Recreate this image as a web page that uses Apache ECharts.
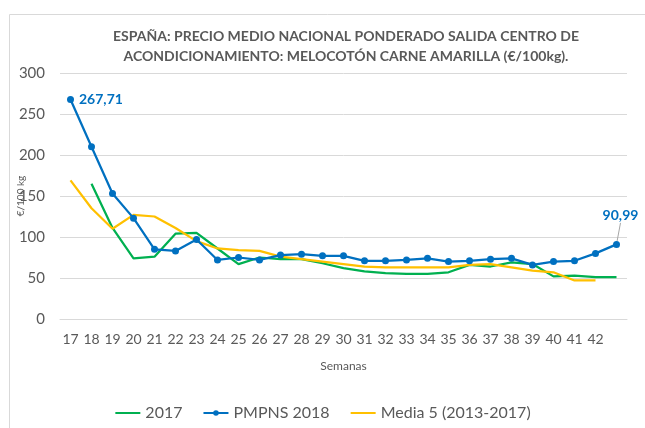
<!DOCTYPE html>
<html>
<head>
<meta charset="utf-8">
<script src="https://cdn.jsdelivr.net/npm/echarts@6/dist/echarts.min.js"></script>
<style>
  html, body { margin: 0; padding: 0; background: #fff; }
  #chart { width: 645px; height: 428px; }
</style>
</head>
<body>
<div id="chart"></div>
<script>
// semanas 17..43 (la última sin etiqueta)
const semanas = ['17', '18', '19', '20', '21', '22', '23', '24', '25', '26', '27', '28', '29', '30',
  '31', '32', '33', '34', '35', '36', '37', '38', '39', '40', '41', '42', ''];

const serie2017 = [null, 165, 111, 74, 76, 104, 105, 86, 67, 75, 73, 73, 68, 62,
  58, 56, 55, 55, 57, 66, 64, 69, 67, 52, 53, 51, 51];

const pmpns2018 = [267.71, 210, 153, 123, 85, 83, 97, 72, 75, 72, 78, 79, 77, 77,
  71, 71, 72, 74, 70, 71, 73, 74, 66, 70, 71, 80, 90.99];

const media5 = [169, 135, 110, 127, 125, 111, 95, 86, 84, 83, 76, 73, 70, 67,
  64, 63, 63, 63, 63, 66, 67, 63, 59, 57, 47, 47, null];

const yTicks = { min: 0, max: 300, step: 50 };

const FONT = 'Lato, "Open Sans", sans-serif';
const GRIS = '#595959';
const AZUL = '#0070C0';
const VERDE = '#00B050';
const AMARILLO = '#FFC000';

const chart = echarts.init(document.getElementById('chart'));

// etiqueta sólo en el primer y último punto de 2018
const last = pmpns2018.length - 1;
const datos2018 = pmpns2018.map((v, i) => {
  if (i === 0) {
    return {
      value: v,
      label: { show: true, position: 'right', distance: 5 },
      labelLine: { show: false }
    };
  }
  if (i === last) {
    return {
      value: v,
      label: { show: true, position: 'top', distance: 5 }
    };
  }
  return v;
});

const option = {
  animation: false,
  textStyle: { fontFamily: FONT },
  graphic: [
    {
      type: 'rect',
      shape: { x: 9.5, y: 14.5, width: 700, height: 500 },
      style: { fill: 'none', stroke: '#D9D9D9', lineWidth: 1 }
    }
  ],
  title: {
    text: 'ESPAÑA: PRECIO MEDIO NACIONAL PONDERADO SALIDA CENTRO DE\nACONDICIONAMIENTO: MELOCOTÓN CARNE AMARILLA (€/100kg).',
    left: 346,
    top: 26,
    textAlign: 'center',
    padding: 0,
    textStyle: {
      fontFamily: FONT,
      fontSize: 14,
      fontWeight: 'bold',
      color: GRIS,
      lineHeight: 20,
      align: 'center'
    }
  },
  legend: {
    top: 400,
    left: 'center',
    orient: 'horizontal',
    itemWidth: 25,
    itemHeight: 7,
    itemGap: 20,
    textStyle: { fontFamily: FONT, fontSize: 16, color: GRIS },
    data: [
      { name: '2017', itemStyle: { opacity: 0 } },
      { name: 'PMPNS 2018' },
      { name: 'Media 5 (2013-2017)', itemStyle: { opacity: 0 } }
    ]
  },
  grid: {
    left: 60,
    right: 18,
    top: 73,
    bottom: 109,
    outerBoundsMode: 'none'
  },
  xAxis: {
    type: 'category',
    data: semanas,
    boundaryGap: true,
    name: 'Semanas',
    nameLocation: 'middle',
    nameGap: 41,
    nameMoveOverlap: false,
    nameTextStyle: { fontFamily: FONT, fontSize: 12, color: GRIS },
    axisLine: { show: true, lineStyle: { color: '#D9D9D9', width: 1 } },
    axisTick: { show: false },
    axisLabel: {
      interval: 0,
      margin: 13,
      fontFamily: FONT,
      fontSize: 14,
      color: GRIS
    }
  },
  yAxis: {
    type: 'value',
    min: yTicks.min,
    max: yTicks.max,
    interval: yTicks.step,
    name: '€/100 kg',
    nameLocation: 'middle',
    nameRotate: 90,
    nameGap: 34,
    nameMoveOverlap: false,
    nameTextStyle: { fontFamily: FONT, fontSize: 10, color: GRIS },
    axisLine: { show: false },
    axisTick: { show: false },
    axisLabel: {
      margin: 15,
      fontFamily: FONT,
      fontSize: 15,
      color: GRIS
    },
    splitLine: { lineStyle: { color: '#D9D9D9', width: 1 } }
  },
  series: [
    {
      name: '2017',
      type: 'line',
      data: serie2017,
      symbol: 'none',
      lineStyle: { color: VERDE, width: 2.25 },
      itemStyle: { color: VERDE },
      z: 2
    },
    {
      name: 'PMPNS 2018',
      type: 'line',
      data: datos2018,
      symbol: 'circle',
      symbolSize: 7,
      lineStyle: { color: AZUL, width: 2.25 },
      itemStyle: { color: AZUL },
      label: {
        fontFamily: FONT,
        fontSize: 14,
        fontWeight: 'bold',
        color: AZUL,
        formatter: p => p.value.toFixed(2).replace('.', ',')
      },
      // sólo la etiqueta final se desplaza hacia arriba, con línea guía
      labelLayout: p => (p.dataIndex === last ? { dx: 4, dy: -13 } : {}),
      labelLine: { show: true, lineStyle: { color: '#A6A6A6', width: 1 } },
      z: 4
    },
    {
      name: 'Media 5 (2013-2017)',
      type: 'line',
      data: media5,
      symbol: 'none',
      lineStyle: { color: AMARILLO, width: 2.25 },
      itemStyle: { color: AMARILLO },
      z: 3
    }
  ]
};

chart.setOption(option);
</script>
</body>
</html>
